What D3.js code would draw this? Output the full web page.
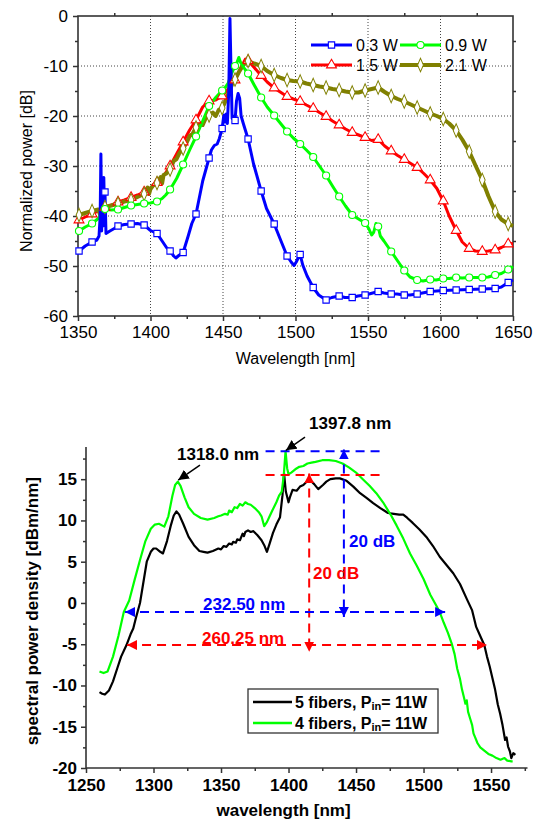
<!DOCTYPE html>
<html><head><meta charset="utf-8">
<script src="https://cdn.jsdelivr.net/npm/d3@7"></script>
<style>body{margin:0;background:#fff}svg{display:block}text{font-family:"Liberation Sans",Arial,sans-serif}</style>
</head><body><svg id="c" width="537" height="820"></svg>
<script>
// ---------- top chart data ----------
const topXTicks = [1350,1400,1450,1500,1550,1600,1650];
const topXMinor = [1375,1425,1475,1525,1575,1625];
const topYTicks = [-60,-50,-40,-30,-20,-10,0];
const topYMinor = [-55,-45,-35,-25,-15,-5];
const topSeriesNames = ["0.3 W","0.9 W","1.5 W","2.1 W"];
const markerWavelengths = [1350.7,1359.7,1368.6,1377.6,1386.6,1395.6,1404.5,1413.5,1422.5,1431.4,1440.4,1449.4,1458.3,1467.3,1476.3,1485.3,1494.2,1503.2,1512.2,1521.1,1530.1,1539.1,1548,1557,1566,1575,1583.9,1592.9,1601.9,1610.8,1619.8,1628.8,1637.7,1646.7];

const blue03 = [[1350,-47.3],[1350.7,-47],[1355,-46],[1359.7,-45.2],[1363,-44.8],[1364.5,-44],[1365.3,-40],[1365.8,-27.6],[1366.3,-43],[1366.8,-33],[1367.3,-42],[1367.8,-32.3],[1368.3,-40],[1368.6,-35.2],[1369.3,-43.5],[1372,-43],[1375,-42.5],[1377.6,-42],[1382,-41.7],[1386.6,-41.6],[1391,-41.5],[1395.6,-41.8],[1400,-42.9],[1404.5,-43.5],[1408,-45],[1411,-46.3],[1413.5,-47],[1416,-48],[1417.5,-48.4],[1419.5,-47.9],[1422.5,-47.3],[1426,-44],[1428.5,-41.5],[1431.4,-39.6],[1436,-33],[1440.4,-28.4],[1442,-26.8],[1444,-25.9],[1446,-25.6],[1447.5,-24.5],[1449.4,-22.5],[1450.6,-19.8],[1451.5,-21.2],[1452.3,-19.6],[1453,-21.5],[1454,-15],[1454.8,-0.5],[1455.6,-12],[1456.3,-20.5],[1457.3,-20],[1458.3,-20.9],[1459.3,-17],[1460.4,-15.5],[1461.5,-16.5],[1462.5,-20],[1464,-21.5],[1467.3,-24.6],[1471,-29.5],[1476.3,-35],[1480,-38.5],[1485.3,-41.6],[1490,-45],[1494.2,-48],[1497,-49.2],[1499,-49.9],[1500.5,-49.2],[1501.5,-48.6],[1503.2,-47.7],[1505,-49.8],[1508,-52],[1512.2,-54.3],[1516,-55.8],[1521.1,-56.8],[1525,-56.3],[1530.1,-56],[1534,-56.3],[1539.1,-56.3],[1543,-56],[1548,-55.8],[1552,-55.5],[1557,-55.1],[1561,-55.4],[1566,-55.6],[1570,-55.6],[1575,-55.8],[1579,-55.8],[1583.9,-55.6],[1592.9,-55.1],[1601.9,-54.9],[1610.8,-54.8],[1619.8,-54.7],[1628.8,-54.6],[1637.7,-54.5],[1642,-54.2],[1646.7,-53.3],[1650,-52.8]];
const green09 = [[1350,-43.5],[1350.7,-43],[1355,-42.2],[1359.7,-41.5],[1364,-40.5],[1366,-39.5],[1367,-38],[1368.6,-38.6],[1373,-38.8],[1377.6,-38.7],[1382,-38.3],[1386.6,-37.9],[1391,-37.7],[1395.6,-37.5],[1400,-37.4],[1404.5,-37.1],[1408,-36.5],[1410.5,-35.8],[1413.5,-34.7],[1418,-32.5],[1422.5,-29.7],[1427,-26.8],[1431.4,-24.1],[1436,-21],[1440.4,-18],[1445,-16.3],[1449.4,-14.9],[1451.5,-14.3],[1453.5,-13.5],[1455.5,-11.8],[1458.3,-10],[1459.5,-9.4],[1460.9,-8.3],[1462,-9.2],[1463.2,-9.8],[1465,-10.6],[1467.3,-11.5],[1471.5,-13.8],[1476.3,-16.3],[1480.5,-18.2],[1485.3,-19.9],[1490,-21.6],[1494.2,-23.1],[1498.5,-24.4],[1503.2,-25.6],[1507.5,-26.8],[1512.2,-28.2],[1516.5,-30],[1521.1,-31.9],[1525.5,-34],[1530.1,-36.1],[1534.5,-38],[1539.1,-39.8],[1543.5,-40.6],[1548,-41.4],[1550.5,-42.5],[1552.5,-43.8],[1554,-43.2],[1555.5,-41.5],[1557,-42.1],[1558.5,-44],[1561,-45],[1566,-47.1],[1570,-48.8],[1575,-50.9],[1579,-52.2],[1583.9,-52.8],[1588,-53],[1592.9,-52.7],[1597,-52.8],[1601.9,-52.5],[1606,-52.5],[1610.8,-52.3],[1615,-52.4],[1619.8,-52.3],[1624,-52.3],[1628.8,-52.3],[1633,-52.2],[1637.7,-51.8],[1642,-51.5],[1646.7,-50.7],[1650,-50.1]];
const red15 = [[1350,-41.3],[1350.7,-40.8],[1355,-40.2],[1359.7,-39.6],[1364,-39],[1368.6,-38.3],[1373,-37.8],[1377.6,-37.2],[1382,-36.8],[1386.6,-36.3],[1391,-35.8],[1395.6,-35.2],[1400,-34.4],[1404.5,-33.3],[1409,-32],[1413.5,-30],[1418,-27.6],[1422.5,-25.2],[1427,-22.8],[1431.4,-20.8],[1436,-18.2],[1440.4,-17],[1445,-16.8],[1449.4,-16],[1453,-14.8],[1458.3,-12.8],[1462,-10.5],[1465.5,-8.6],[1467.3,-8.9],[1471.5,-10.3],[1476.3,-11.9],[1480.5,-13.2],[1485.3,-14.4],[1490,-15.3],[1494.2,-16.1],[1498.5,-16.6],[1503.2,-17.1],[1507.5,-17.8],[1512.2,-18.5],[1516.5,-19.3],[1521.1,-20.1],[1525.5,-21],[1530.1,-21.8],[1534.5,-22.6],[1539.1,-23.3],[1543.5,-23.8],[1548,-24.3],[1552.5,-24.9],[1557,-24.7],[1561.5,-26],[1566,-27],[1570.5,-27.9],[1575,-28.7],[1579.5,-29.5],[1583.9,-30.3],[1588.5,-31.5],[1592.9,-32.8],[1597.5,-34.5],[1601.9,-37],[1606,-40],[1610.8,-42.9],[1615,-45.2],[1619.8,-46.5],[1624,-47],[1628.8,-47.1],[1633,-47],[1637.7,-46.8],[1642,-46.3],[1646.7,-45.6],[1650,-45.5]];
const olive21 = [[1350,-40.2],[1350.7,-39.8],[1355,-39.4],[1359.7,-39],[1364,-38.7],[1366,-40.5],[1367,-38.2],[1368.6,-38.2],[1373,-37.9],[1377.6,-37.5],[1382,-37.1],[1386.6,-36.8],[1391,-36.2],[1395.6,-35.6],[1398,-34.3],[1399,-35.6],[1400,-34.6],[1402,-33.8],[1404.5,-33.4],[1407,-32.2],[1408,-33.5],[1409,-31.8],[1411,-31.5],[1413.5,-30.7],[1416,-29],[1418,-28.6],[1420,-27.4],[1422.5,-26.5],[1425,-25.3],[1427,-24],[1429,-23.6],[1431.4,-22.3],[1434,-21.5],[1436,-21.8],[1438,-20.5],[1440.4,-19.9],[1443,-19.3],[1445,-20],[1447,-18.8],[1449.4,-18.4],[1451,-17.5],[1453,-16],[1455,-14.6],[1456.5,-13.5],[1458.3,-12.7],[1461,-11.2],[1464,-9.8],[1467.3,-9],[1471.5,-9.5],[1476.3,-10],[1480.5,-11],[1485.3,-11.8],[1490,-12.4],[1494.2,-12.8],[1498.5,-13],[1503.2,-13.1],[1507.5,-13.5],[1512.2,-13.8],[1516.5,-14.1],[1521.1,-14.3],[1525.5,-14.6],[1530.1,-14.8],[1534.5,-15.1],[1539.1,-15.3],[1543.5,-15.3],[1548,-14.9],[1552.5,-14.6],[1557,-14.3],[1561.5,-15.2],[1566,-16],[1570.5,-16.6],[1575,-17.1],[1579.5,-17.7],[1583.9,-18.3],[1588.5,-18.9],[1592.9,-19.5],[1597.5,-20],[1601.9,-20.6],[1606,-21.5],[1610.8,-22.9],[1615,-24.7],[1619.8,-27.1],[1624,-29.8],[1628.8,-32.8],[1633,-36],[1637.7,-39.1],[1642,-40.7],[1646.7,-41.6],[1650,-42]];

// ---------- bottom chart data ----------
const botXTicks = [1250,1300,1350,1400,1450,1500,1550];
const botXMinor = [1275,1325,1375,1425,1475,1525,1575];
const botYTicks = [-20,-15,-10,-5,0,5,10,15];
const botYMinor = [-17.5,-12.5,-7.5,-2.5,2.5,7.5,12.5,17.5];
const botSeriesNames = ["5 fibers, P","4 fibers, P"];
const fiber5 = [[1260,-10.8],[1262,-11],[1264,-11.1],[1267,-10.6],[1270,-9.5],[1273,-8],[1276,-6.5],[1280,-5.1],[1283,-3.8],[1285,-3.1],[1287,-1.8],[1290,0],[1293,3],[1295,5],[1298,6.2],[1300,6.6],[1302,6.6],[1305,6.2],[1307,6],[1310,7.5],[1313,9.5],[1315,10.6],[1317,11.1],[1319,10.7],[1322,9.6],[1326,8],[1330,7],[1334,6.3],[1337,6.2],[1340,6.1],[1344,6.3],[1348,6.6],[1350,6.5],[1352,6.9],[1354,6.8],[1356,7.2],[1358,7.1],[1359,7.4],[1361,7.3],[1362,7.7],[1364,7.6],[1366,8.4],[1367,8.1],[1368,8.6],[1370,8.8],[1372,8.6],[1374,8.7],[1377,8.2],[1380,7.6],[1382,7],[1384,6.2],[1386,7.2],[1388.5,8.5],[1391,9.5],[1393.7,10.4],[1395.5,13],[1396.7,15.7],[1398,13.5],[1400,12.2],[1401,12.8],[1403,13.7],[1406,13.6],[1408.5,14.1],[1411,14.3],[1413.4,14.7],[1416,14.9],[1419,14.4],[1422,13.8],[1425.5,14.3],[1428,14.7],[1431,15],[1435,15.1],[1438,15.1],[1443,14.8],[1448,14.1],[1453,13.3],[1458,12.7],[1462.7,12.1],[1468,11.5],[1473.7,10.9],[1478,10.8],[1482,10.7],[1485,10.7],[1488,10.3],[1492,9.7],[1497,8.9],[1502.6,7.9],[1507,6.9],[1512,5.6],[1517,4.6],[1522,3.6],[1527,2.3],[1532,0.5],[1536,-0.9],[1539,-2.9],[1542,-4],[1545,-5.1],[1547,-6.5],[1549,-7.7],[1551,-9.1],[1553,-10.5],[1555,-12.3],[1556.7,-13.4],[1558.5,-14.8],[1560.4,-16.6],[1561.5,-16.3],[1562.6,-17.4],[1564,-18],[1565,-18.8],[1566.5,-18.2],[1568,-18.4]];
const fiber4 = [[1260,-8.3],[1263,-8.5],[1266,-8.3],[1270,-6.5],[1274,-4],[1278,-1.1],[1282,0.3],[1286,2.8],[1290,5.2],[1294,7.5],[1298,9],[1301,9.5],[1304,9.6],[1308,9.25],[1311,10.5],[1314,13],[1316,14.3],[1318,14.7],[1320,14.2],[1323,12.8],[1326,11.6],[1330,10.8],[1335,10.3],[1340,10.1],[1345,10.3],[1348,10.5],[1350,10.6],[1353,10.8],[1355,10.7],[1356,11.2],[1358,11],[1360,11.6],[1362,11.5],[1364,12],[1366,11.8],[1368,12.2],[1370,12],[1372,11.9],[1375,11.5],[1378,11],[1380,10.5],[1382,9.3],[1384,9.8],[1386,10.5],[1388,11.2],[1391,12.2],[1393,13],[1395,13.5],[1396.5,15.5],[1397.8,18.4],[1399,16.3],[1400,15.6],[1402,15.8],[1405,16.2],[1408,16.5],[1411,16.6],[1414,16.9],[1417,17],[1420,17.1],[1425,17.3],[1430,17.3],[1435,17.2],[1440,16.9],[1445,16.4],[1450,15.8],[1455,15],[1460,14.2],[1465,13.3],[1470,12.2],[1476,10.6],[1480,9.4],[1485,7.8],[1490,6],[1495,4.5],[1500,2.9],[1505,1],[1510,-0.5],[1512,-1.1],[1515,-2.4],[1518,-3.6],[1521,-5],[1523,-6.2],[1525,-8],[1527,-9.2],[1528.5,-10.5],[1530,-11.5],[1531,-12.2],[1532,-11.8],[1533,-13.2],[1534.5,-14],[1536,-14.8],[1537,-15.8],[1538,-16.2],[1540,-17],[1542,-17.5],[1545,-17.9],[1548,-18.3],[1551,-18.5],[1554,-18.8],[1557,-19],[1560,-18.8],[1562,-19.1],[1565,-19.2],[1566,-19.2]];

// annotations (data coords)
const peakLabels = [{t:"1318.0 nm", at:[1317.4,17.3], from:[1334.4,16.7], to:[1318.3,14.9]},
                    {t:"1397.8 nm", at:[1415.2,21.1], from:[1412.2,20.1], to:[1398.1,18.5]}];
const levelLines = [{c:"#0000ff", v:18.4, a:1383, b:1469},{c:"#ff0000", v:15.5, a:1383, b:1469}];
const dropArrows = [{c:"#0000ff", w:1441, top:18.6, bot:-1.7, label:"20 dB", lx:1444.8, ly:6.8},
                    {c:"#ff0000", w:1415.3, top:15.7, bot:-5.9, label:"20 dB", lx:1418.1, ly:2.9}];
const widthArrows = [{c:"#0000ff", v:-1.1, a:1278.9, b:1516, label:"232.50 nm", lx:1336.7, ly:-0.85},
                     {c:"#ff0000", v:-5.1, a:1280.4, b:1547, label:"260.25 nm", lx:1335.9, ly:-5.0}];

const svg = d3.select("#c");
const fmt = d => String(d);

// ---------- TOP CHART ----------
const x1 = d3.scaleLinear([1350,1650],[78,513]);
const y1 = d3.scaleLinear([-60,0],[316,16]);
const g1 = svg.append("g");
// grid
g1.selectAll(".gx").data(topXTicks.slice(1,-1)).join("line")
  .attr("x1",d=>x1(d)).attr("x2",d=>x1(d)).attr("y1",y1(0)).attr("y2",y1(-60))
  .attr("stroke","#444").attr("stroke-width",1).attr("stroke-dasharray","1,2");
g1.selectAll(".gy").data(topYTicks.slice(1,-1)).join("line")
  .attr("y1",d=>y1(d)).attr("y2",d=>y1(d)).attr("x1",x1(1350)).attr("x2",x1(1650))
  .attr("stroke","#444").attr("stroke-width",1).attr("stroke-dasharray","1,2");

function styleAxis(sel, size, bold){
  sel.select(".domain").remove();
  sel.selectAll(".tick line").attr("stroke","#333").attr("stroke-width",1.5);
  sel.selectAll("text").attr("fill","#000").attr("font-size",size)
     .attr("font-family",'"Liberation Sans",Arial,sans-serif').attr("font-weight",bold?"bold":"normal");
}
styleAxis(g1.append("g").attr("transform",`translate(0,${y1(-60)})`)
  .call(d3.axisBottom(x1).tickValues(topXTicks).tickFormat(fmt).tickSize(5).tickPadding(5)),17);
styleAxis(g1.append("g").attr("transform",`translate(0,${y1(-60)})`)
  .call(d3.axisBottom(x1).tickValues(topXMinor).tickFormat("").tickSize(3)),17);
styleAxis(g1.append("g").attr("transform",`translate(${x1(1350)},0)`)
  .call(d3.axisLeft(y1).tickValues(topYTicks).tickFormat(fmt).tickSize(5).tickPadding(5)),17);
styleAxis(g1.append("g").attr("transform",`translate(${x1(1350)},0)`)
  .call(d3.axisLeft(y1).tickValues(topYMinor).tickFormat("").tickSize(3)),17);
styleAxis(g1.append("g").attr("transform",`translate(0,${y1(0)})`)
  .call(d3.axisTop(x1).tickValues(topXMinor).tickFormat("").tickSize(3)),17);
styleAxis(g1.append("g").attr("transform",`translate(${x1(1650)},0)`)
  .call(d3.axisRight(y1).tickValues(topYMinor).tickFormat("").tickSize(3)),17);
g1.append("rect").attr("x",x1(1350)).attr("y",y1(0)).attr("width",x1(1650)-x1(1350)).attr("height",y1(-60)-y1(0))
  .attr("fill","none").attr("stroke","#333").attr("stroke-width",1.6);

g1.append("text").attr("transform",`translate(26,${y1(-31)}) rotate(-90)`).attr("text-anchor","middle")
  .attr("dominant-baseline","central").attr("font-size",16).text("Normalized power [dB]");
g1.append("text").attr("x",x1(1500)).attr("y",358).attr("text-anchor","middle")
  .attr("dominant-baseline","central").attr("font-size",16).text("Wavelength [nm]");

const line1 = d3.line().x(d=>x1(d[0])).y(d=>y1(d[1]));
const topSeries = [
  {name:topSeriesNames[2], data:red15, color:"#ff0000", w:3, shape:"tri"},
  {name:topSeriesNames[3], data:olive21, color:"#808000", w:4, shape:"dia"},
  {name:topSeriesNames[1], data:green09, color:"#00ff00", w:3, shape:"cir"},
  {name:topSeriesNames[0], data:blue03, color:"#0000ff", w:3, shape:"sq"}
];
const symType = {sq:d3.symbolSquare, cir:d3.symbolCircle, tri:d3.symbolTriangle, dia:d3.symbolDiamond};
const symSize = {sq:40, cir:40, tri:42, dia:40};
const isMarker = d => markerWavelengths.some(m => Math.abs(m-d[0])<0.05);
function drawMarker(sel, shape, color){
  sel.append("path").attr("d", d3.symbol(symType[shape], symSize[shape])())
    .attr("fill","#fff").attr("stroke",color).attr("stroke-width",1.1)
    .attr("transform", shape==="dia" ? "scale(0.85,1.15)" : null);
}
topSeries.forEach(s=>{
  g1.append("path").datum(s.data).attr("d",line1).attr("fill","none")
    .attr("stroke",s.color).attr("stroke-width",s.w).attr("stroke-linejoin","round");
});
topSeries.forEach(s=>{
  g1.selectAll(null).data(s.data.filter(isMarker)).join("g")
    .attr("transform",d=>`translate(${x1(d[0])},${y1(d[1])})`)
    .each(function(){ drawMarker(d3.select(this), s.shape, s.color); });
});
// legend
const legTop = [
  {s:topSeries[3], lx:311, ly:45},{s:topSeries[2], lx:400, ly:45},
  {s:topSeries[0], lx:311, ly:65},{s:topSeries[1], lx:400, ly:65}];
legTop.forEach(l=>{
  const g = g1.append("g");
  g.append("line").attr("x1",l.lx).attr("x2",l.lx+41).attr("y1",l.ly).attr("y2",l.ly)
    .attr("stroke",l.s.color).attr("stroke-width",l.s.w);
  const m = g.append("g").attr("transform",`translate(${l.lx+20.5},${l.ly})`);
  drawMarker(m, l.s.shape, l.s.color);
  g.append("text").attr("x",l.lx+45).attr("y",l.ly).attr("dominant-baseline","central")
    .attr("font-size",16).text(l.s.name);
});

// ---------- BOTTOM CHART ----------
const x2 = d3.scaleLinear([1250,1577],[86,527.5]);
const y2 = d3.scaleLinear([-20,18.9],[768,447]);
const g2 = svg.append("g");
styleAxis(g2.append("g").attr("transform",`translate(0,${y2(-20)})`)
  .call(d3.axisBottom(x2).tickValues(botXTicks).tickFormat(fmt).tickSize(5).tickPadding(6)),17,true);
styleAxis(g2.append("g").attr("transform",`translate(0,${y2(-20)})`)
  .call(d3.axisBottom(x2).tickValues(botXMinor).tickFormat("").tickSize(3)),17,true);
styleAxis(g2.append("g").attr("transform",`translate(${x2(1250)},0)`)
  .call(d3.axisLeft(y2).tickValues(botYTicks).tickFormat(fmt).tickSize(5).tickPadding(4)),17,true);
styleAxis(g2.append("g").attr("transform",`translate(${x2(1250)},0)`)
  .call(d3.axisLeft(y2).tickValues(botYMinor).tickFormat("").tickSize(3)),17,true);
g2.append("path").attr("d",`M${x2(1250)},${y2(18.9)}V${y2(-20)}H${x2(1577)}`)
  .attr("fill","none").attr("stroke","#333").attr("stroke-width",1.6);

g2.append("text").attr("transform",`translate(32,${y2(-1)}) rotate(-90)`).attr("text-anchor","middle")
  .attr("dominant-baseline","central").attr("font-size",17).attr("font-weight","bold").text("spectral power density [dBm/nm]");
g2.append("text").attr("x",x2(1400)-5).attr("y",810).attr("text-anchor","middle")
  .attr("dominant-baseline","central").attr("font-size",17).attr("font-weight","bold").text("wavelength [nm]");

const line2 = d3.line().x(d=>x2(d[0])).y(d=>y2(d[1]));
g2.append("path").datum(fiber5).attr("d",line2).attr("fill","none").attr("stroke","#000").attr("stroke-width",2.2).attr("stroke-linejoin","round");
g2.append("path").datum(fiber4).attr("d",line2).attr("fill","none").attr("stroke","#00ff00").attr("stroke-width",2.2).attr("stroke-linejoin","round");

// arrow markers
const defs = svg.append("defs");
[["ab","#0000ff"],["ar","#ff0000"],["ak","#000"]].forEach(([id,c])=>{
  defs.append("marker").attr("id",id).attr("viewBox","0 0 10 10").attr("refX",10).attr("refY",5)
    .attr("markerWidth",id==="ak"?7:5).attr("markerHeight",id==="ak"?7:5).attr("markerUnits","strokeWidth")
    .attr("orient","auto-start-reverse")
    .append("path").attr("d","M0,0L10,5L0,10z").attr("fill",c);
});
const idOf = c => c==="#0000ff"?"ab":"ar";
levelLines.forEach(l=>{
  g2.append("line").attr("x1",x2(l.a)).attr("x2",x2(l.b)).attr("y1",y2(l.v)).attr("y2",y2(l.v))
    .attr("stroke",l.c).attr("stroke-width",2).attr("stroke-dasharray","9,6");
});
dropArrows.forEach(a=>{
  g2.append("line").attr("x1",x2(a.w)).attr("x2",x2(a.w)).attr("y1",y2(a.top)).attr("y2",y2(a.bot))
    .attr("stroke",a.c).attr("stroke-width",2).attr("stroke-dasharray","9,6")
    .attr("marker-start",`url(#${idOf(a.c)})`).attr("marker-end",`url(#${idOf(a.c)})`);
  g2.append("text").attr("x",x2(a.lx)).attr("y",y2(a.ly)).attr("fill",a.c).attr("font-size",17)
    .attr("font-weight","bold").text(a.label);
});
widthArrows.forEach(a=>{
  g2.append("line").attr("x1",x2(a.a)).attr("x2",x2(a.b)).attr("y1",y2(a.v)).attr("y2",y2(a.v))
    .attr("stroke",a.c).attr("stroke-width",2).attr("stroke-dasharray","9,6")
    .attr("marker-start",`url(#${idOf(a.c)})`).attr("marker-end",`url(#${idOf(a.c)})`);
  g2.append("text").attr("x",x2(a.lx)).attr("y",y2(a.ly)).attr("fill",a.c).attr("font-size",17)
    .attr("font-weight","bold").text(a.label);
});
peakLabels.forEach(p=>{
  g2.append("line").attr("x1",x2(p.from[0])).attr("y1",y2(p.from[1])).attr("x2",x2(p.to[0])).attr("y2",y2(p.to[1]))
    .attr("stroke","#000").attr("stroke-width",1.5).attr("marker-end","url(#ak)");
  g2.append("text").attr("x",x2(p.at[0])).attr("y",y2(p.at[1])).attr("font-size",17)
    .attr("font-weight","bold").text(p.t);
});
// legend box
const lg = g2.append("g");
lg.append("rect").attr("x",248).attr("y",689).attr("width",190).attr("height",44)
  .attr("fill","#fff").attr("stroke","#333").attr("stroke-width",1.3);
[{c:"#000", y:702},{c:"#00ff00", y:723}].forEach((r,i)=>{
  lg.append("line").attr("x1",253).attr("x2",292).attr("y1",r.y).attr("y2",r.y).attr("stroke",r.c).attr("stroke-width",2.5);
  const t = lg.append("text").attr("x",295).attr("y",r.y+6).attr("font-size",16).attr("font-weight","bold");
  t.append("tspan").text(botSeriesNames[i]);
  t.append("tspan").attr("font-size",11).attr("dy",2).text("in");
  t.append("tspan").attr("dy",-2).text("= 11W");
});
</script></body></html>
